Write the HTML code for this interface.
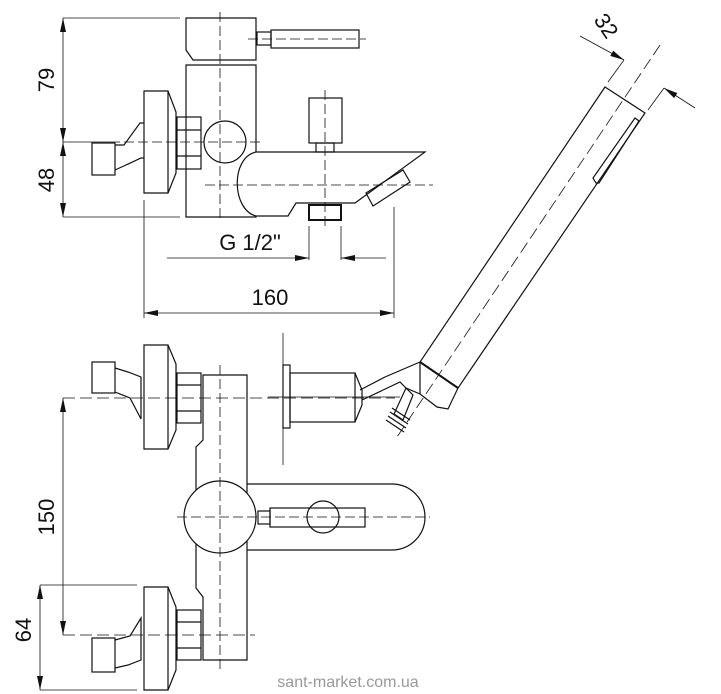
<!DOCTYPE html>
<html><head><meta charset="utf-8"><style>
html,body{margin:0;padding:0;background:#fff}
svg{display:block}
text{font-family:"Liberation Sans",Arial,sans-serif;fill:#111}
</style></head><body>
<svg width="721" height="694" viewBox="0 0 721 694" xmlns="http://www.w3.org/2000/svg">
<defs>
<marker id="a" markerWidth="14" markerHeight="6" refX="14" refY="3" orient="auto" markerUnits="userSpaceOnUse"><path d="M0,0 L14,3 L0,6 z" fill="#111"/></marker>
</defs>
<g fill="none" stroke="#111" stroke-width="1.2">
<!-- TOP VIEW dims -->
<line x1="63" y1="18" x2="180" y2="18" stroke-width="0.8"/>
<line x1="63" y1="217" x2="180" y2="217" stroke-width="0.8"/>
<line x1="63" y1="80" x2="63" y2="18" marker-end="url(#a)" stroke-width="0.8"/>
<line x1="63" y1="80" x2="63" y2="142" marker-end="url(#a)" stroke-width="0.8"/>
<line x1="63" y1="180" x2="63" y2="142" marker-end="url(#a)" stroke-width="0.8"/>
<line x1="63" y1="180" x2="63" y2="217" marker-end="url(#a)" stroke-width="0.8"/>
<line x1="63" y1="142" x2="110" y2="142" stroke-width="0.8"/>
<line x1="110" y1="142" x2="262" y2="142" stroke-width="0.8" stroke-dasharray="10,4"/>
<!-- column -->
<path d="M186,18 L256,18 L256,60 L193,60 L186,50 Z"/>
<path d="M186,65 L256,65 L256,217 L186,217 Z"/>
<rect x="257" y="32" width="14" height="13"/>
<rect x="271" y="30" width="88" height="18"/>
<line x1="248" y1="39" x2="366" y2="39" stroke-width="0.8" stroke-dasharray="10,4"/>
<line x1="220" y1="12" x2="220" y2="222" stroke-width="0.8" stroke-dasharray="10,4"/>
<!-- flange, nut, ball, inlet -->
<path d="M144,91 L168,91 L176,112 L176,173 L168,193 L144,193 Z"/>
<line x1="168" y1="91" x2="168" y2="193"/>
<rect x="177" y="117" width="24" height="52"/>
<line x1="177" y1="130" x2="201" y2="130"/><line x1="177" y1="156" x2="201" y2="156"/>
<circle cx="225" cy="142" r="21"/>
<rect x="92" y="143" width="23" height="32"/>
<path d="M115,145 L124,145 L140,123 L144,123 M115,170 L126,165 L141,158 L144,158"/>
<!-- spout -->
<path d="M256,152 L425,152 L355,203 L296,203 L288,216 L256,216 C232,210 230,158 256,152 Z" fill="#fff"/>
<path d="M366,193 L403,170 L410,182 L373,206 Z"/>
<rect x="309" y="98" width="33" height="45"/>
<rect x="316" y="143" width="18" height="9"/>
<rect x="309" y="205" width="32" height="15" stroke-width="2"/>
<line x1="205" y1="185" x2="433" y2="185" stroke-width="0.8" stroke-dasharray="10,4"/>
<line x1="325" y1="90" x2="325" y2="228" stroke-width="0.8" stroke-dasharray="10,4"/>
<!-- G 1/2 and 160 dims -->
<line x1="309" y1="226" x2="309" y2="260" stroke-width="0.8"/>
<line x1="341" y1="226" x2="341" y2="260" stroke-width="0.8"/>
<line x1="167" y1="258" x2="309" y2="258" marker-end="url(#a)" stroke-width="0.8"/>
<line x1="386" y1="258" x2="341" y2="258" marker-end="url(#a)" stroke-width="0.8"/>
<line x1="144" y1="200" x2="144" y2="318" stroke-width="0.8"/>
<line x1="394" y1="207" x2="394" y2="318" stroke-width="0.8"/>
<line x1="270" y1="313" x2="144" y2="313" marker-end="url(#a)" stroke-width="0.8"/>
<line x1="270" y1="313" x2="394" y2="313" marker-end="url(#a)" stroke-width="0.8"/>
<!-- shower head -->
<path d="M605,87 L645,113 L458,388 L448,409 L437,407 L420,394 L420,362 Z"/>
<line x1="420" y1="362" x2="458" y2="388" stroke-width="2"/>
<path d="M639,121 L635,118 L593,178 L596,183 L599,183 Z"/>
<line x1="660" y1="45" x2="395" y2="440" stroke-width="0.8" stroke-dasharray="12,5"/>
<line x1="580" y1="36" x2="624" y2="60" marker-end="url(#a)" stroke-width="0.8"/>
<line x1="624" y1="60" x2="608" y2="82" stroke-width="0.8"/>
<line x1="695" y1="108" x2="664" y2="88" marker-end="url(#a)" stroke-width="0.8"/>
<line x1="664" y1="88" x2="648" y2="110" stroke-width="0.8"/>
<!-- holder -->
<line x1="283" y1="333" x2="283" y2="465" stroke-width="0.8"/>
<rect x="283" y="365" width="7" height="63"/>
<rect x="290" y="373" width="65" height="49"/>
<path d="M355,373 L362,390 L362,405 L355,422"/>
<path d="M360,390 L385,377 L420,362 M362,400 L400,382 L406,388 L420,394"/>
<path d="M406,388 L413,395 L403,420 L394,414 Z"/>
<path d="M392,408 L410,420 M390,412 L408,424 M388,416 L406,428 M386,420 L404,432"/>
<line x1="268" y1="397" x2="400" y2="397" stroke-width="0.8"/>
<!-- BOTTOM VIEW -->
<path d="M144,345 L168,345 L176,364 L176,430 L168,449 L144,449 Z"/><line x1="168" y1="345" x2="168" y2="449"/>
<rect x="177" y="373" width="24" height="50"/><line x1="177" y1="385" x2="201" y2="385"/><line x1="177" y1="411" x2="201" y2="411"/>
<rect x="92" y="362" width="23" height="31"/>
<path d="M115,368 L128,372 L141,377 L141,419 L130,398 L115,392"/>
<path d="M144,587 L168,587 L176,607 L176,670 L168,690 L144,690 Z"/><line x1="168" y1="587" x2="168" y2="690"/>
<rect x="177" y="610" width="24" height="50"/><line x1="177" y1="622" x2="201" y2="622"/><line x1="177" y1="648" x2="201" y2="648"/>
<rect x="92" y="638" width="23" height="34"/>
<path d="M115,640 L130,636 L141,618 L141,660 L128,665 L115,668"/>
<path d="M203,375 L247,375 L247,660 L203,660 L203,597 L196,588 L196,447 L203,440 Z"/>
<path d="M247,484 L392,484 A33,33 0 0 1 392,550 L247,550"/>
<circle cx="220" cy="517" r="36" fill="#fff"/>
<rect x="258" y="511" width="12" height="13"/>
<rect x="270" y="508" width="95" height="19"/>
<circle cx="323" cy="517" r="16"/>
<line x1="177" y1="517" x2="430" y2="517" stroke-width="0.8" stroke-dasharray="10,4"/>
<line x1="220" y1="365" x2="220" y2="670" stroke-width="0.8" stroke-dasharray="10,4"/>
<line x1="63" y1="398" x2="395" y2="398" stroke-width="0.8" stroke-dasharray="12,5"/>
<line x1="63" y1="635" x2="255" y2="635" stroke-width="0.8" stroke-dasharray="12,5"/>
<line x1="63" y1="517" x2="63" y2="398" marker-end="url(#a)" stroke-width="0.8"/>
<line x1="63" y1="517" x2="63" y2="635" marker-end="url(#a)" stroke-width="0.8"/>
<line x1="40" y1="585" x2="137" y2="585" stroke-width="0.8"/>
<line x1="40" y1="690" x2="137" y2="690" stroke-width="0.8"/>
<line x1="40" y1="637" x2="40" y2="585" marker-end="url(#a)" stroke-width="0.8"/>
<line x1="40" y1="637" x2="40" y2="690" marker-end="url(#a)" stroke-width="0.8"/>
</g>
<text x="0" y="0" font-size="22" transform="translate(54,80) rotate(-90)" text-anchor="middle">79</text>
<text x="0" y="0" font-size="22" transform="translate(54,180) rotate(-90)" text-anchor="middle">48</text>
<text x="0" y="0" font-size="22" transform="translate(54,517) rotate(-90)" text-anchor="middle">150</text>
<text x="0" y="0" font-size="22" transform="translate(31,630) rotate(-90)" text-anchor="middle">64</text>
<text x="250" y="250" font-size="22" text-anchor="middle">G 1/2"</text>
<text x="270" y="305" font-size="22" text-anchor="middle">160</text>
<text x="0" y="0" font-size="22" transform="translate(600,30) rotate(56)" text-anchor="middle">32</text>
<text x="348" y="687" font-size="16" text-anchor="middle" style="fill:#999">sant-market.com.ua</text>
</svg>
</body></html>
